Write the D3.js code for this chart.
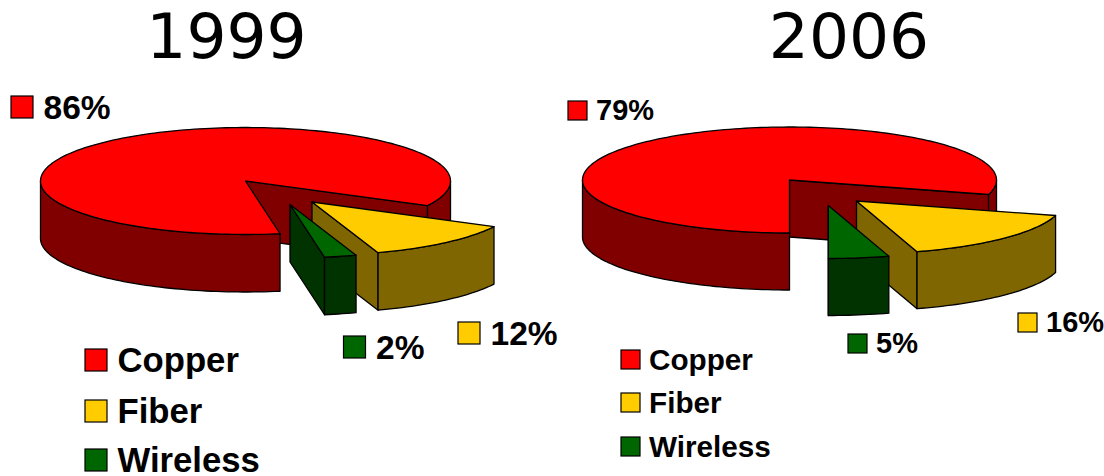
<!DOCTYPE html>
<html><head><meta charset="utf-8">
<script src="https://cdnjs.cloudflare.com/ajax/libs/d3/7.8.5/d3.min.js"></script>
<style>html,body{margin:0;padding:0;background:#fff}svg{display:block}</style>
</head><body><svg id="c" width="1104" height="476"></svg>
<script>
const categories = ["Copper", "Fiber", "Wireless"];
const share1999 = [86, 12, 2];
const share2006 = [79, 16, 5];
const titles = ["1999", "2006"];

const topColors = ["#ff0000", "#ffcc00", "#006600"];
const sideColors = ["#800000", "#806600", "#003300"];

const panels = [
  { title: titles[0], values: share1999, titleX: 226.5, titleY: 57.5,
    cx: 245.5, cy: 181, rx: 205, ry: 53.5, depth: 57.5, start: 169.6,
    nudge: [0.7, -1.8, -1.2],
    explode: [[0, 0], [66.5, 21], [44.5, 23.5]],
    sw: 22, gap: 10,
    valueLabels: [[11, 118, 33.5], [458, 344, 33.5], [343.5, 358, 33.5]],
    legend: { x: 85, ys: [372, 423, 472], font: 34.7, gap: 10.5 } },
  { title: titles[1], values: share2006, titleX: 849, titleY: 58,
    cx: 789.5, cy: 180, rx: 207, ry: 53, depth: 57, start: 180,
    nudge: [0, 1.5, 1],
    explode: [[0, 0], [67, 21], [38.8, 25.5]],
    sw: 19, gap: 9,
    valueLabels: [[568, 120, 29], [1018, 332, 29], [848, 353, 29]],
    legend: { x: 621, ys: [370, 413, 457], font: 29.7, gap: 9 } }
];

const svg = d3.select("#c");
const rad = d => d * Math.PI / 180;
const lineGen = d3.line();

function drawSwatch(g, x, baseline, size, color) {
  g.append("rect").attr("x", x).attr("y", baseline - size).attr("width", size).attr("height", size)
    .attr("fill", color).attr("stroke", "#000").attr("stroke-width", 1.2);
}
function drawText(g, x, y, size, str) {
  g.append("text").attr("x", x).attr("y", y).attr("font-family", "'Liberation Sans',Arial,sans-serif")
    .attr("font-weight", 700).attr("font-size", size).attr("fill", "#000").text(str);
}

panels.forEach(p => {
  const g = svg.append("g");
  g.append("text").attr("x", p.titleX).attr("y", p.titleY).attr("text-anchor", "middle")
    .attr("font-family", "'DejaVu Sans',Verdana,sans-serif").attr("font-size", 63).attr("fill", "#000").text(p.title);

  const arcs = d3.pie().sort(null).startAngle(rad(p.start)).endAngle(rad(p.start) + 2 * Math.PI)(p.values);
  const xS = d3.scaleLinear().domain([-1, 1]).range([p.cx - p.rx, p.cx + p.rx]);
  const yS = d3.scaleLinear().domain([-1, 1]).range([p.cy + p.ry, p.cy - p.ry]);

  arcs.forEach((a, i) => {
    const [dx, dy] = p.explode[i];
    // small optical correction of each slice edge for the picture's perspective
    const a0 = a.startAngle + rad(p.nudge[i]);
    const a1 = a.endAngle + rad(p.nudge[(i + 1) % arcs.length]);
    const pt = (t, dz = 0) => [xS(Math.sin(t)) + dx, yS(Math.cos(t)) + dy + dz];
    const apex = (dz = 0) => [xS(0) + dx, yS(0) + dy + dz];
    const samples = (t0, t1) => {
      const n = Math.max(2, Math.ceil((t1 - t0) / rad(1.5)));
      return d3.range(n + 1).map(k => t0 + (t1 - t0) * k / n);
    };
    const paint = (pts, fill) => g.append("path").attr("d", lineGen(pts) + "Z").attr("fill", fill)
      .attr("stroke", "#000").attr("stroke-width", 1.3).attr("stroke-linejoin", "round");

    // radial wall at the closing edge of the slice
    paint([apex(), pt(a1), pt(a1, p.depth), apex(p.depth)], sideColors[i]);

    // outer rim: only the stretches that face the viewer
    [0, 1].forEach(k => {
      const lo = Math.max(a0, Math.PI / 2 + 2 * Math.PI * k);
      const hi = Math.min(a1, 3 * Math.PI / 2 + 2 * Math.PI * k);
      if (hi > lo) {
        const s = samples(lo, hi);
        paint(s.map(t => pt(t)).concat(s.slice().reverse().map(t => pt(t, p.depth))), sideColors[i]);
      }
    });

    // top face
    paint([apex()].concat(samples(a0, a1).map(t => pt(t))), topColors[i]);
  });

  p.valueLabels.forEach(([x, y, fs], i) => {
    drawSwatch(g, x, y, p.sw, topColors[i]);
    drawText(g, x + p.sw + p.gap + (fs > 30 ? 0.5 : 0), y + (fs > 30 ? 1 : 0), fs, p.values[i] + "%");
  });
  categories.forEach((c, i) => {
    drawSwatch(g, p.legend.x, p.legend.ys[i] - 1, p.sw, topColors[i]);
    drawText(g, p.legend.x + p.sw + p.legend.gap, p.legend.ys[i], p.legend.font, c);
  });
});
</script></body></html>
